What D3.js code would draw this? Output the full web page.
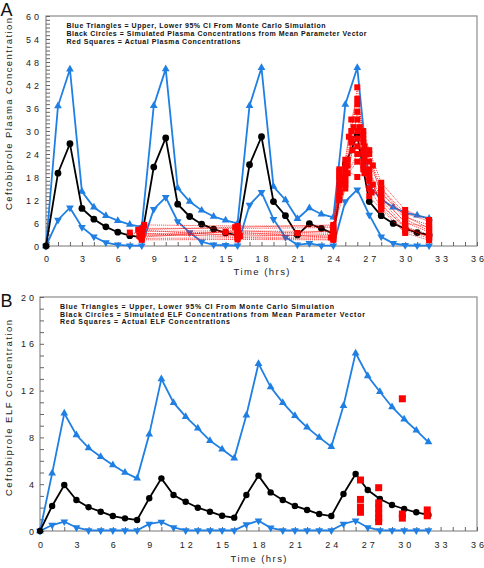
<!DOCTYPE html>
<html><head><meta charset="utf-8">
<script src="https://cdn.jsdelivr.net/npm/d3@7"></script>
<style>body{margin:0;background:#fff}svg{display:block}</style>
</head><body>
<svg id="c" width="484" height="568"></svg>
<script>
// ---------- DATA ----------
const hours = [0,1,2,3,4,5,6,7,8,9,10,11,12,13,14,15,16,17,18,19,20,21,22,23,24,25,26,27,28,29,30,31,32];
const xTickLabels = [0,3,6,9,12,15,18,21,24,27,30,33,36];
const plasmaYTicks = [0,6,12,18,24,30,36,42,48,54,60];
const elfYTicks = [0,4,8,12,16,20];

const plasmaUpper = [0,36.5,46.1,14.2,10.1,7.9,6.6,5.6,5.0,36.6,46.2,15.1,11.6,9.3,7.7,6.7,5.9,36.6,46.5,15.5,12.0,7.1,9.9,8.3,7.5,36.9,46.5,15.7,12.2,10.1,8.7,8.0,7.2];
const plasmaMean  = [0,19.0,26.7,9.8,7.0,5.0,3.6,2.7,2.3,20.6,28.2,10.9,7.7,5.7,4.4,3.4,2.8,21.2,28.5,11.6,7.9,2.9,5.8,4.6,3.2,21.4,28.8,11.6,7.9,5.9,4.5,3.5,2.9];
const plasmaLower = [0,6.8,10.0,4.9,2.4,0.9,0.3,0.1,0.1,9.6,12.7,6.4,3.5,1.1,0.3,0.2,0.1,10.7,14.0,7.0,2.3,0.3,0.7,0.1,0.1,11.6,14.7,8.1,2.4,0.7,0.2,0.1,0.1];

// observed plasma concentrations, one list of [time, value] per patient
const plasmaPatients = [
  [[7.8,2.6],[16,3.0],[24,2.6],[24.5,15],[25,19],[25.5,30],[26,41.4],[26.5,28],[27,22],[28,14],[30,7],[32,4]],
  [[8,4.6],[16,4.6],[24,4.8],[24.5,18],[25,22.5],[25.5,33],[26,38.4],[26.5,30],[27,25],[28,16.5],[30,9.4],[32,6.8]],
  [[8,2.0],[16,2.1],[24,1.8],[24.5,12],[25,16.5],[25.5,27],[26,26],[26.5,22],[27,15],[28,10],[30,4],[32,2]],
  [[7,3.5],[8,3.1],[15,3.7],[16,3.3],[24,3.4],[24.5,19.5],[25.2,21],[26,35],[26.5,25],[27,20],[28,12],[30,5],[32,3]],
  [[8.2,5.5],[16,5.2],[24,5.2],[24.5,20],[25,17.5],[26,30],[26.5,27],[27,18],[28,15],[30,8.5],[32,6.5]],
  [[8,1.6],[16,1.7],[24,1.6],[24.5,13.5],[25,18],[26,22],[26.5,20],[27,13],[28,9.5],[30,3.4],[32,1.5]],
  [[8,3.8],[16,4.0],[21,3.4],[24,4.0],[24.5,16],[25.2,22.5],[25.7,31],[26,33],[26.5,29],[27,24],[28,13],[30,6],[32,5]],
  [[7.7,4.2],[16.2,2.6],[24,3.0],[24.5,17],[25,20],[26,18],[26.6,19],[27.3,16],[28,11],[30,4.5],[32,2.5]],
  [[8,2.8],[16,3.6],[23.8,2.2],[25,15],[25.5,28],[26,28],[26.5,24],[27,17],[28,12.5],[30,6.2],[32,3.6]],
  [[8.1,4.3],[15.8,4.9],[24,5.5],[24.5,13],[25,21],[25.3,28.5],[26,37],[26.6,26],[27.3,21],[28,15],[30,7.5],[32,5.5]],
  [[8,3.3],[16,2.3],[24,2.3],[24.6,14],[25.2,19],[26,24],[26.5,21],[27,19],[28,10.5],[30,5],[32,2.2]],
  [[7.9,2.3],[16,3.9],[24,3.8],[24.5,18.5],[25,16],[25.6,25],[26.2,31],[26.6,23],[27.2,14],[28,13.8],[30,7.8],[32,4.6]]
];

const elfUpper = [0,4.93,10.06,8.2,7.1,6.35,5.64,5.0,4.5,8.26,13.0,10.97,9.77,8.78,7.72,6.98,6.21,9.9,14.3,12.3,10.97,9.85,8.86,8.0,7.2,10.7,15.2,13.25,11.9,10.6,9.55,8.6,7.6];
const elfMean  = [0,2.14,3.93,2.65,2.03,1.65,1.28,1.08,0.94,2.8,4.5,3.08,2.5,1.99,1.65,1.3,1.14,3.08,4.73,3.3,2.65,2.14,1.8,1.45,1.28,3.16,4.87,3.5,2.74,2.22,1.88,1.6,1.37];
const elfLower = [0,0.51,0.8,0.3,0.05,0.05,0.05,0.05,0.05,0.6,0.78,0.3,0.05,0.05,0.05,0.05,0.05,0.55,0.88,0.27,0.05,0.05,0.05,0.05,0.05,0.6,0.88,0.3,0.05,0.05,0.05,0.05,0.05];
const elfObsTime  = [26.4,26.4,26.4,26.4,27.9,27.9,27.9,27.9,27.9,27.9,29.85,29.85,29.85,31.9,31.9];
const elfObsValue = [4.36,2.7,2.05,1.6,3.7,2.4,1.95,1.5,1.1,0.8,11.3,1.45,1.1,1.8,1.3];

const plasmaLegend = [
  "Blue  Triangles  =  Upper,  Lower  95%  CI  From  Monte  Carlo  Simulation",
  "Black  Circles  =  Simulated  Plasma  Concentrations  from  Mean  Parameter  Vector",
  "Red  Squares  =  Actual  Plasma  Concentrations"];
const elfLegend = [
  "Blue  Triangles  =  Upper,  Lower  95%  CI  From  Monte  Carlo  Simulation",
  "Black  Circles  =  Simulated  ELF  Concentrations  from  Mean  Parameter  Vector",
  "Red  Squares  =  Actual  ELF  Concentrations"];

// ---------- DRAW ----------
const FONT = "'Liberation Sans', Arial, Helvetica, sans-serif";
const BLUE = "#1f7fe3", RED = "#ff0000";
const svg = d3.select("#c");

function spaced(sel){
  // wide-spaced digits without trailing spacing
  sel.each(function(){
    const t = d3.select(this), s = t.text();
    if (s.length > 1) t.attr("textLength", 13).attr("lengthAdjust","spacing");
  });
}

function drawPanel(o){
  const g = svg.append("g");
  const x = d3.scaleLinear().domain([0,36]).range([o.left, o.right]);
  const y = d3.scaleLinear().domain([0,o.yMax]).range([o.bottom, o.top]);

  g.append("rect").attr("x",o.left).attr("y",o.top)
    .attr("width",o.right-o.left).attr("height",o.bottom-o.top)
    .attr("fill","none").attr("stroke","#8c8c8c").attr("stroke-width",1.2);

  const xa = d3.axisBottom(x).tickValues(d3.range(0,37)).tickSize(-4).tickPadding(10)
    .tickFormat(d => xTickLabels.includes(d) ? String(d) : "");
  const gx = g.append("g").attr("transform",`translate(0,${o.bottom})`).call(xa);
  gx.select(".domain").remove();
  gx.selectAll(".tick line").attr("stroke","#666").attr("stroke-width",1);
  gx.selectAll(".tick text").attr("font-family",FONT).attr("font-size",9)
    .attr("fill","#222").attr("y",o.xLabY-o.bottom).attr("dy",0).call(spaced);

  const ya = d3.axisLeft(y).tickValues(d3.range(0,o.yMax+1)).tickSize(-4).tickPadding(0)
    .tickFormat(d => o.yTicks.includes(d) ? String(d) : "");
  const gy = g.append("g").attr("transform",`translate(${o.left},0)`).call(ya);
  gy.select(".domain").remove();
  gy.selectAll(".tick line").attr("stroke","#666").attr("stroke-width",1);
  gy.selectAll(".tick text").attr("font-family",FONT).attr("font-size",9)
    .attr("text-anchor","end").attr("x",o.yLabX - o.left).attr("dy","0.34em")
    .attr("fill","#222").call(spaced);

  g.append("text").attr("x",(o.left+o.right)/2).attr("y",o.xTitleY)
    .attr("text-anchor","middle").attr("font-family",FONT).attr("font-size",9.5)
    .attr("textLength",56).attr("lengthAdjust","spacing").attr("fill","#222").text("Time  (hrs)");
  g.append("text").attr("transform",`translate(${o.yTitleX},${o.yTitleY}) rotate(-90)`)
    .attr("text-anchor","middle").attr("font-family",FONT).attr("font-size",9.5)
    .attr("textLength",o.yTitleLen).attr("lengthAdjust","spacing").attr("fill","#222").text(o.yTitle);
  g.append("text").attr("x",0.5).attr("y",o.letterY).attr("font-family",FONT)
    .attr("font-size",18).attr("fill","#111").text(o.letter);

  o.legend.forEach((s,i)=>{
    g.append("text").attr("x",o.legX).attr("y",o.legY + i*o.legDy)
      .attr("font-family",FONT).attr("font-size",7).attr("font-weight","bold")
      .attr("textLength",o.legLens[i]).attr("lengthAdjust","spacing").attr("fill","#111").text(s);
  });

  const line = d3.line().x((d,i)=>x(hours[i])).y(d=>y(d));
  const tri = d3.symbol().type(d3.symbolTriangle).size(o.triSize);

  function blueSeries(vals, down){
    g.append("path").datum(vals).attr("d",line).attr("fill","none")
      .attr("stroke",BLUE).attr("stroke-width",1.8);
    g.append("g").selectAll("path").data(vals).join("path")
      .attr("d",tri).attr("fill",BLUE)
      .attr("transform",(d,i)=>`translate(${x(hours[i])},${y(d)}) rotate(${down?180:0})`);
  }
  blueSeries(o.upper,false);
  blueSeries(o.lower,true);

  g.append("path").datum(o.mean).attr("d",line).attr("fill","none")
    .attr("stroke","#000").attr("stroke-width",1.8);
  g.append("g").selectAll("circle").data(o.mean).join("circle")
    .attr("cx",(d,i)=>x(hours[i])).attr("cy",d=>y(d)).attr("r",o.circR).attr("fill","#000");

  return {g,x,y};
}

const A = drawPanel({
  left:46, right:477, top:16, bottom:246, yMax:60, yTicks:plasmaYTicks,
  yLabX:39, xLabY:261.5, xTitleY:275, yTitleX:11.5, yTitleY:114, yTitleLen:192,
  yTitle:"Ceftobiprole  Plasma  Concentration", letter:"A", letterY:16,
  legend:plasmaLegend, legX:66.5, legY:28.3, legDy:7.7, legLens:[259,300,174],
  upper:plasmaUpper, mean:plasmaMean, lower:plasmaLower, triSize:26, circR:3.4
});
const pl = d3.line().x(d=>A.x(d[0])).y(d=>A.y(d[1]));
A.g.append("g").selectAll("path").data(plasmaPatients).join("path")
  .attr("d",pl).attr("fill","none").attr("stroke",RED).attr("stroke-width",1)
  .attr("stroke-dasharray","1.2,0.9").attr("opacity",0.7);
A.g.append("g").selectAll("rect").data(plasmaPatients.flat()).join("rect")
  .attr("x",d=>A.x(d[0])-3).attr("y",d=>A.y(d[1])-3).attr("width",6).attr("height",6).attr("fill",RED);

const B = drawPanel({
  left:40, right:477, top:297, bottom:531, yMax:20, yTicks:elfYTicks,
  yLabX:34, xLabY:548, xTitleY:562, yTitleX:11.5, yTitleY:408, yTitleLen:176,
  yTitle:"Ceftobiprole  ELF  Concentration", letter:"B", letterY:306.5,
  legend:elfLegend, legX:60, legY:309, legDy:7.7, legLens:[274,305,170],
  upper:elfUpper, mean:elfMean, lower:elfLower, triSize:26, circR:3.2
});
B.g.append("g").selectAll("rect").data(elfObsTime).join("rect")
  .attr("x",(d)=>B.x(d)-3.5).attr("y",(d,i)=>B.y(elfObsValue[i])-3.5)
  .attr("width",7).attr("height",7).attr("fill",RED);
</script>
</body></html>
